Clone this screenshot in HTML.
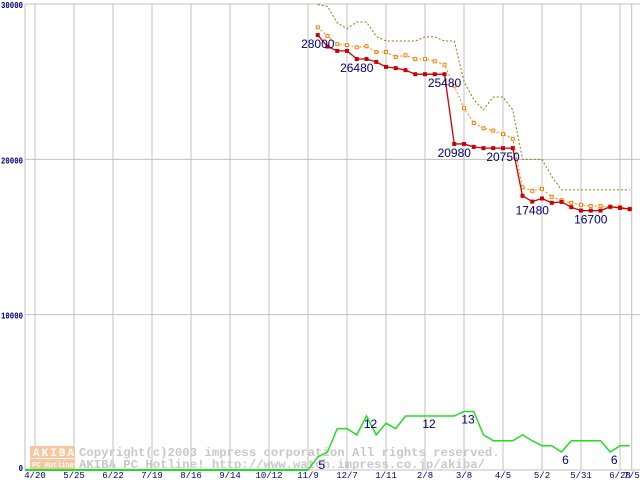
<!DOCTYPE html>
<html><head><meta charset="utf-8"><style>
html,body{margin:0;padding:0;background:#fff;}
svg{display:block;font-family:"Liberation Mono","DejaVu Sans Mono",monospace;}
</style></head><body>
<svg id="chart" width="640" height="480" viewBox="0 0 640 480" xmlns="http://www.w3.org/2000/svg">
<g id="grid"></g>
<g id="watermark">
  <rect x="30" y="446" width="45" height="12" fill="#f7c7a0"/>
  <text x="33" y="456" font-size="11" font-weight="bold" fill="#fff" letter-spacing="2">AKIBA</text>
  <rect x="30" y="459" width="45" height="10" fill="#f7c7a0"/>
  <text x="32" y="467" font-size="7" font-weight="bold" fill="#fff">PC Hotline!</text>
  <text x="79" y="456" font-size="12.3" font-weight="bold" fill="#c8c8c8">Copyright(c)2003 impress corporation All rights reserved.</text>
  <text x="79" y="468" font-size="12.3" font-weight="bold" fill="#c8c8c8">AKIBA PC Hotline!  http://www.watch.impress.co.jp/akiba/</text>
</g>
<g id="series"></g>
<g id="labels"></g>
</svg>
<script>
const xLabels = ["4/20","5/25","6/22","7/19","8/16","9/14","10/12","11/9","12/7","1/11","2/8","3/8","4/5","5/2","5/31","6/28","7/5"];
const yTicks = [0,10000,20000,30000];
const minPrice = [28000,27260,26980,26980,26460,26460,26270,25950,25870,25740,25480,25480,25480,25480,20990,20990,20800,20720,20720,20720,20720,17650,17280,17480,17200,17260,16920,16700,16700,16700,16950,16870,16790];
const avgPrice = [28500,27940,27420,27360,27210,27280,26910,26910,26590,26700,26460,26460,26310,26090,24740,23290,22340,22000,21850,21620,21320,18200,17970,18100,17580,17370,17200,17070,17000,17000,16920,16940,16810];
const maxPrice = [29960,29850,28780,28410,28840,28840,27910,27620,27620,27620,27620,27880,27880,27620,27620,25010,23840,23190,24010,24010,23190,20000,20000,20000,18890,18030,18030,18030,18030,18030,18030,18030,18030];
const shopCount = [0,2.9,4,9.2,9.2,7.8,12,7.8,10.4,9.2,12,12,12,12,12,12,13,13,7.8,6.5,6.5,6.5,7.8,6.5,5.4,5.4,4,6.5,6.5,6.5,6.5,4,5.4,5.4];
const priceNotes = [[0,"28000"],[4,"26480"],[13,"25480"],[14,"20980"],[19,"20750"],[22,"17480"],[28,"16700"]];
const countNotes = [[1,"5"],[6,"12"],[12,"12"],[16,"13"],[26,"6"],[31,"6"]];

const NS="http://www.w3.org/2000/svg";
const X0=308, WK=9.75;
const xw = w => X0 + w*WK;
const yp = v => 470 - v*(466/30000);
const yc = v => 470 - v*4.5;
function mk(tag, attrs, parent){const e=document.createElementNS(NS,tag);for(const k in attrs)e.setAttribute(k,attrs[k]);parent.appendChild(e);return e;}
const grid=document.getElementById('grid'), ser=document.getElementById('series'), lab=document.getElementById('labels');

xLabels.forEach((t,i)=>{
  const x = i<16 ? X0+(i-7)*39 : xw(33.2);
  const l=mk('line',{x1:x,y1:4,x2:x,y2:470,stroke:'#c0c0c0','stroke-width':1},grid);
  
  
  const tx=mk('text',{x:x,y:478,'font-size':9,fill:'#000080','text-anchor':'middle'},lab);
  tx.textContent=t;
  
  
});
const ax=mk('line',{x1:25,y1:4,x2:25,y2:470,stroke:'#c0c0c0'},grid);


yTicks.forEach(v=>{
  const y=yp(v);
  const l=mk('line',{x1:25,y1:y,x2:640,y2:y,stroke:'#c0c0c0'},grid);
  
  
  const s=String(v);
  const w=s.length*4.4;
  const t=mk('text',{x:23-w,y:y+(v===0?1:4),'font-size':9.5,'font-weight':'bold',fill:'#000080',textLength:w,lengthAdjust:'spacingAndGlyphs'},lab);
  t.textContent=s;
  
  
});

function line(arr, fy, off, attrs, name){
  const pts=arr.map((v,i)=>xw(i+off)+','+fy(v)).join(' ');
  const p=mk('polyline',Object.assign({points:pts,fill:'none'},attrs),ser);
  
  
}
line(shopCount, yc, 0, {stroke:'#22dd22','stroke-width':1.5}, 'shop-count-line');
const g0=mk('line',{x1:25,y1:470,x2:X0,y2:470,stroke:'#22dd22','stroke-width':2},ser);


line(maxPrice, yp, 1, {stroke:'#808000','stroke-width':1,'stroke-dasharray':'2,2'}, 'max-price-line');
line(avgPrice, yp, 1, {stroke:'#ff8000','stroke-width':1,'stroke-dasharray':'2,2'}, 'avg-price-line');
avgPrice.forEach((v,i)=>{
  const r=mk('rect',{x:xw(i+1)-1.5,y:yp(v)-1.5,width:3,height:3,fill:'#fff',stroke:'#ff8000','stroke-width':1},ser);
  
  
});
line(minPrice, yp, 1, {stroke:'#cc0000','stroke-width':1.3}, 'min-price-line');
minPrice.forEach((v,i)=>{
  const r=mk('rect',{x:xw(i+1)-2,y:yp(v)-2,width:4,height:4,fill:'#cc0000'},ser);
  
  
});
priceNotes.forEach(([i,t])=>{
  const tx=mk('text',{x:xw(i+1),y:yp(minPrice[i])+13,'font-size':12,fill:'#000080','text-anchor':'middle','font-family':'Liberation Sans, sans-serif'},lab);
  tx.textContent=t;
  
  
});
countNotes.forEach(([i,t])=>{
  const tx=mk('text',{x:xw(i)+4,y:yc(shopCount[i])+12,'font-size':12,fill:'#000080','text-anchor':'middle','font-family':'Liberation Sans, sans-serif'},lab);
  tx.textContent=t;
  
  
});
</script>
</body></html>
